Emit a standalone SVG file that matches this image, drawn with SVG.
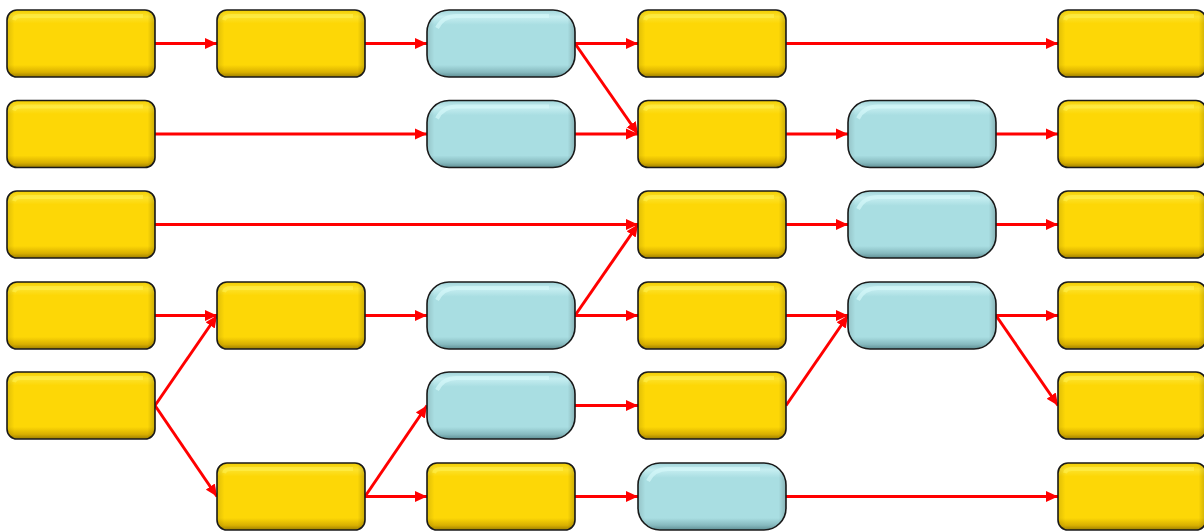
<svg xmlns="http://www.w3.org/2000/svg" width="1204" height="531" viewBox="0 0 1204 531">
<style>
.y{fill:url(#gy);stroke:#1a1a1a;stroke-width:1.6}
.b{fill:url(#gb);stroke:#1a1a1a;stroke-width:1.6}
.hy{fill:none;stroke:#fff050;stroke-width:4;opacity:.6}
.hb{fill:none;stroke:#d4f8fa;stroke-width:4;opacity:.7}
.e line{stroke:#ff0000;stroke-width:3;marker-end:url(#ah)}
</style>
<defs>
<linearGradient id="gy" x1="0" y1="0" x2="0" y2="1">
<stop offset="0" stop-color="#f2cc00"/>
<stop offset="0.1" stop-color="#fde22a"/>
<stop offset="0.2" stop-color="#fdd706"/>
<stop offset="0.82" stop-color="#fdd706"/>
<stop offset="0.93" stop-color="#d9b000"/>
<stop offset="1" stop-color="#9c7e00"/>
</linearGradient>
<linearGradient id="gb" x1="0" y1="0" x2="0" y2="1">
<stop offset="0" stop-color="#9fd3d8"/>
<stop offset="0.1" stop-color="#c6eef1"/>
<stop offset="0.22" stop-color="#a9dee2"/>
<stop offset="0.82" stop-color="#a9dee2"/>
<stop offset="0.93" stop-color="#86b9be"/>
<stop offset="1" stop-color="#5f8f94"/>
</linearGradient>
<linearGradient id="sx" x1="0" y1="0" x2="1" y2="0">
<stop offset="0" stop-color="#000" stop-opacity="0.12"/>
<stop offset="0.05" stop-color="#000" stop-opacity="0"/>
<stop offset="0.95" stop-color="#000" stop-opacity="0"/>
<stop offset="1" stop-color="#000" stop-opacity="0.2"/>
</linearGradient>
<marker id="ah" markerUnits="userSpaceOnUse" markerWidth="13" markerHeight="12" refX="12" refY="6" orient="auto">
<path d="M0,0.5 L12,6 L0,11.5 z" fill="#ff0000"/>
</marker>
<symbol id="Y" overflow="visible">
<rect class="y" x="0" y="0" width="148" height="67" rx="10"/>
<rect x="0" y="0" width="148" height="67" rx="10" fill="url(#sx)"/>
<path class="hy" d="M7,10 Q8,6 14,6 L136,6"/>
</symbol>
<symbol id="B" overflow="visible">
<rect class="b" x="0" y="0" width="148" height="67" rx="22"/>
<rect x="0" y="0" width="148" height="67" rx="22" fill="url(#sx)"/>
<path class="hb" d="M10,18 Q16,6 30,6 L122,6"/>
</symbol>
</defs>
<g id="connectors" class="e">
<line x1="155" y1="43.5" x2="217" y2="43.5"/>
<line x1="365" y1="43.5" x2="427" y2="43.5"/>
<line x1="575" y1="43.5" x2="638" y2="43.5"/>
<line x1="575" y1="43.5" x2="638" y2="134"/>
<line x1="786" y1="43.5" x2="1058" y2="43.5"/>
<line x1="155" y1="134" x2="427" y2="134"/>
<line x1="575" y1="134" x2="638" y2="134"/>
<line x1="786" y1="134" x2="848" y2="134"/>
<line x1="996" y1="134" x2="1058" y2="134"/>
<line x1="155" y1="224.5" x2="638" y2="224.5"/>
<line x1="786" y1="224.5" x2="848" y2="224.5"/>
<line x1="996" y1="224.5" x2="1058" y2="224.5"/>
<line x1="155" y1="315.5" x2="217" y2="315.5"/>
<line x1="365" y1="315.5" x2="427" y2="315.5"/>
<line x1="575" y1="315.5" x2="638" y2="315.5"/>
<line x1="575" y1="315.5" x2="638" y2="224.5"/>
<line x1="786" y1="315.5" x2="848" y2="315.5"/>
<line x1="996" y1="315.5" x2="1058" y2="315.5"/>
<line x1="996" y1="315.5" x2="1058" y2="405.5"/>
<line x1="155" y1="405.5" x2="217" y2="315.5"/>
<line x1="155" y1="405.5" x2="217" y2="496.5"/>
<line x1="575" y1="405.5" x2="638" y2="405.5"/>
<line x1="786" y1="405.5" x2="848" y2="315.5"/>
<line x1="365" y1="496.5" x2="427" y2="405.5"/>
<line x1="365" y1="496.5" x2="427" y2="496.5"/>
<line x1="575" y1="496.5" x2="638" y2="496.5"/>
<line x1="786" y1="496.5" x2="1058" y2="496.5"/>
</g>
<g id="n1-1"><use href="#Y" x="7" y="10"/></g>
<g id="n1-2"><use href="#Y" x="217" y="10"/></g>
<g id="n1-3"><use href="#B" x="427" y="10"/></g>
<g id="n1-4"><use href="#Y" x="638" y="10"/></g>
<g id="n1-6"><use href="#Y" x="1058" y="10"/></g>
<g id="n2-1"><use href="#Y" x="7" y="100.5"/></g>
<g id="n2-3"><use href="#B" x="427" y="100.5"/></g>
<g id="n2-4"><use href="#Y" x="638" y="100.5"/></g>
<g id="n2-5"><use href="#B" x="848" y="100.5"/></g>
<g id="n2-6"><use href="#Y" x="1058" y="100.5"/></g>
<g id="n3-1"><use href="#Y" x="7" y="191"/></g>
<g id="n3-4"><use href="#Y" x="638" y="191"/></g>
<g id="n3-5"><use href="#B" x="848" y="191"/></g>
<g id="n3-6"><use href="#Y" x="1058" y="191"/></g>
<g id="n4-1"><use href="#Y" x="7" y="282"/></g>
<g id="n4-2"><use href="#Y" x="217" y="282"/></g>
<g id="n4-3"><use href="#B" x="427" y="282"/></g>
<g id="n4-4"><use href="#Y" x="638" y="282"/></g>
<g id="n4-5"><use href="#B" x="848" y="282"/></g>
<g id="n4-6"><use href="#Y" x="1058" y="282"/></g>
<g id="n5-1"><use href="#Y" x="7" y="372"/></g>
<g id="n5-3"><use href="#B" x="427" y="372"/></g>
<g id="n5-4"><use href="#Y" x="638" y="372"/></g>
<g id="n5-6"><use href="#Y" x="1058" y="372"/></g>
<g id="n6-2"><use href="#Y" x="217" y="463"/></g>
<g id="n6-3"><use href="#Y" x="427" y="463"/></g>
<g id="n6-4"><use href="#B" x="638" y="463"/></g>
<g id="n6-6"><use href="#Y" x="1058" y="463"/></g>
</svg>
